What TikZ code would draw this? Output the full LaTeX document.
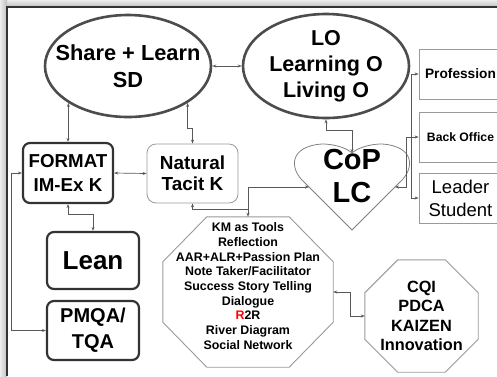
\documentclass[tikz,border=0pt]{standalone}
\usepackage{fontspec}
\setmainfont{Liberation Sans}
\usetikzlibrary{shapes,arrows.meta,positioning,calc}

\newcommand{\fsz}[2]{\fontsize{#1}{#2}\selectfont}
% octagon round a named box: node, cut in x, cut in y
\newcommand{\octaround}[3]{%
  \draw[octoline] ($(#1.north west)+(#2,0)$) -- ($(#1.north east)+(-#2,0)$)
    -- ($(#1.north east)+(0,#3)$) -- ($(#1.south east)+(0,-#3)$)
    -- ($(#1.south east)+(-#2,0)$) -- ($(#1.south west)+(#2,0)$)
    -- ($(#1.south west)+(0,-#3)$) -- ($(#1.north west)+(0,#3)$) -- cycle;}

\begin{document}
\begin{tikzpicture}[x=1pt,y=-1pt,
    >={Stealth[length=4pt,width=3pt]},
    link/.style={draw=black!65, line width=0.7pt},
    bubble/.style={ellipse, draw=black!70, line width=2.6pt, inner sep=0pt},
    boldbox/.style={rectangle, rounded corners=7pt, draw=black!80, line width=2.2pt, inner sep=0pt, align=center, font=\bfseries},
    thinbox/.style={rectangle, draw=black!40, line width=0.8pt, inner sep=0pt, align=center},
    octobox/.style={rectangle, inner sep=0pt},
    octoline/.style={draw=black!40, line width=0.9pt},
    txt/.style={align=center, inner sep=0pt}
]
    \useasboundingbox (0,0) rectangle (497,376);
    %Frame%
    %===========================================================
    \shade[top color=gray!15, bottom color=gray!50] (0,0) rectangle (497,7);
    \shade[left color=gray!15, right color=gray!50] (0,0) rectangle (7,376);
    \draw[black!80, line width=1.2pt] (7,376) -- (7,7) -- (497,7);

    %Ellipses%
    %===========================================================
    \node[bubble, minimum width=166, minimum height=102] (share) at (128,66) {};
    \node[txt, font=\bfseries\fsz{21.8}{27}] (share-t) at (share) {Share + Learn\\SD};
    \node[bubble, minimum width=166, minimum height=104] (lo) at (326,66) {};
    \node[txt, font=\bfseries\fsz{21.5}{26}] (lo-t) at (lo) {LO\\Learning O\\Living O};

    %Boxes on the left%
    %===========================================================
    \node[boldbox, minimum width=90, minimum height=60, font=\bfseries\fsz{18.7}{24}] (format) at (68,173) {FORMAT\\IM-Ex K};
    \node[thinbox, rounded corners=9pt, minimum width=91, minimum height=59, font=\bfseries\fsz{18.9}{21}] (natural) at (192.5,173.5) {Natural\\Tacit K};
    \node[boldbox, minimum width=92, minimum height=57, font=\bfseries\fsz{26}{30}] (lean) at (93,260.5) {Lean};
    \node[boldbox, minimum width=92, minimum height=59, font=\bfseries\fsz{20}{26}] (pmqa) at (93,330.5) {PMQA/\\TQA};

    %Heart%
    %===========================================================
    \draw[draw=black!50, line width=0.8pt] (352,230) -- (305,183)
        .. controls (288,168) and (290,146) .. (322,144)
        .. controls (338,144) and (349,150) .. (352,153)
        .. controls (355,150) and (366,144) .. (382,144)
        .. controls (414,146) and (416,168) .. (399,183) -- cycle;
    \node[txt, font=\bfseries\fsz{29}{33}] (cop) at (352,176.5) {CoP\\LC};
    \coordinate (heart-l) at (309,187);
    \coordinate (heart-r) at (395,187);
    \coordinate (heart-t) at (352,153);

    %Boxes on the right%
    %===========================================================
    \node[thinbox, minimum width=83, minimum height=50, font=\bfseries\fsz{13.7}{16}] (prof) at (460.5,74) {Profession};
    \node[thinbox, minimum width=83, minimum height=50, font=\bfseries\fsz{12.2}{14}] (back) at (460.5,137) {Back Office};
    \node[thinbox, minimum width=83, minimum height=50, font=\fsz{18.5}{23}] (lead) at (460.5,198) {Leader\\Student};

    %Octagons%
    %===========================================================
    \node[octobox, minimum width=170, minimum height=150] (km) at (248,292) {};
    \octaround{km}{44}{45}
    \node[txt, font=\bfseries\fsz{12.4}{14.7}] (km-t) at (248,286)
        {KM as Tools\\Reflection\\AAR+ALR+Passion Plan\\Note Taker/Facilitator\\Success Story Telling\\Dialogue\\\textcolor{red}{R}2R\\River Diagram\\Social Network};
    \node[octobox, minimum width=113, minimum height=112] (cqi) at (421.5,316) {};
    \octaround{cqi}{33}{33}
    \node[txt, font=\bfseries\fsz{16.3}{19.5}] (cqi-t) at (cqi) {CQI\\PDCA\\KAIZEN\\Innovation};

    %Connectors%
    %===========================================================
    \draw[link,<->] (share.east) -- (lo.west);
    \draw[link,<->] (share.south west) -- ++(0,27) -| (format.north);
    \draw[link,<->] (share.south east) -- ++(0,25) -| (natural.north);
    \draw[link,<->] (format.east) -- (natural.west);
    \draw[link,<->] (format.south) -- ++(0,10) -| (lean.north);
    \draw[link,<->] (format.west) -- ++(-11,0) |- (pmqa.west);
    \draw[link,<->] (heart-l) -| (km.north);
    \draw[link,<-] (natural.south) |- ($(km.north)+(0,-7)$);
    \draw[link,<->] (lo.south) -- ++(0,11) -| (heart-t);
    \draw[link,<->] (heart-r) -- ++(11,0) |- (back.west);
    \draw[link,<->] (prof.west) -- ++(-7,0) |- (lead.west);
    \draw[link,<->] (km.east) -- ++(17,0) |- (cqi.west);
\end{tikzpicture}
\end{document}
